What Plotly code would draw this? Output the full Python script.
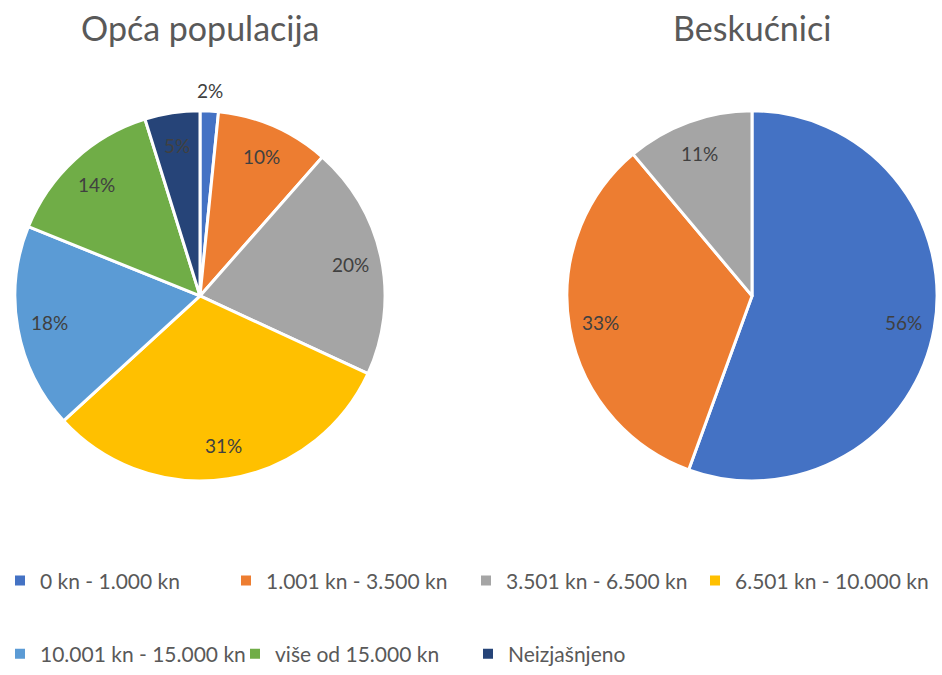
import math
import plotly.graph_objects as go

categories = ["0 kn - 1.000 kn", "1.001 kn - 3.500 kn", "3.501 kn - 6.500 kn",
              "6.501 kn - 10.000 kn", "10.001 kn - 15.000 kn", "više od 15.000 kn",
              "Neizjašnjeno"]
opca_values = [1.6, 9.9, 20.4, 31.3, 17.9, 14.1, 4.8]
beskucnici_categories = categories[:3]
beskucnici_values = [5, 3, 1]
colors = ["#4472C4", "#ED7D31", "#A5A5A5", "#FFC000", "#5B9BD5", "#70AD47", "#264478"]
titles = ["Opća populacija", "Beskućnici"]
# legend column widths (px) for each entry
legend_widths = [181, 195, 184, 200, 190, 188, 200]

W, H = 942, 675
FONT = "Lato, Liberation Sans, sans-serif"
TXT = "#404040"
R = 187
CY = 299
centers = [200, 752]

fig = go.Figure()

pies = [(categories, opca_values), (beskucnici_categories, beskucnici_values)]
for (labs, vals), cx in zip(pies, centers):
    fig.add_trace(go.Pie(
        labels=labs, values=vals, sort=False, direction="clockwise",
        marker=dict(colors=colors[:len(labs)], line=dict(color="white", width=3)),
        textinfo="none",
        domain=dict(x=[(cx - R) / W, (cx + R) / W], y=[(H - CY - R) / H, (H - CY + R) / H]),
        showlegend=False, hoverinfo="label+percent",
    ))
    # data labels placed at mid-angle of each slice (Excel style)
    total = sum(vals)
    cum = 0.0
    for v in vals:
        frac = v / total
        mid = (cum + frac / 2) * 2 * math.pi
        cum += frac
        rr = 0.82 * R if frac > 0.03 else 1.11 * R
        x = cx + rr * math.sin(mid)
        y = CY - rr * math.cos(mid)
        fig.add_annotation(text=f"{round(frac * 100)}%", x=x / W, y=1 - y / H,
                           xref="paper", yref="paper", showarrow=False,
                           xanchor="center", yanchor="middle",
                           font=dict(family=FONT, size=19, color=TXT))

# legend entries (two rows)
for i, (cat, col) in enumerate(zip(categories, colors)):
    fig.add_trace(go.Scatter(
        x=[None], y=[None], mode="markers", name=cat,
        marker=dict(symbol="square", size=10, color=col),
        legend="legend" if i < 4 else "legend2",
        legendwidth=legend_widths[i],
    ))

for t, cx in zip(titles, centers):
    fig.add_annotation(text=t, x=cx / W, y=1 - 28 / H, xref="paper", yref="paper",
                       showarrow=False, xanchor="center", yanchor="middle",
                       font=dict(family=FONT, size=34, color="#595959"))

legend_common = dict(orientation="h", xanchor="left", yanchor="middle",
                     font=dict(family=FONT, size=21, color="#595959"),
                     bgcolor="rgba(0,0,0,0)", itemclick=False, itemdoubleclick=False)
fig.update_layout(
    width=W, height=H, margin=dict(l=0, r=0, t=0, b=0),
    paper_bgcolor="white", plot_bgcolor="white",
    xaxis=dict(visible=False), yaxis=dict(visible=False),
    legend=dict(x=0, y=(H - 587) / H, **legend_common),
    legend2=dict(x=0, y=(H - 661) / H, **legend_common),
)

fig.write_html("out.html")
